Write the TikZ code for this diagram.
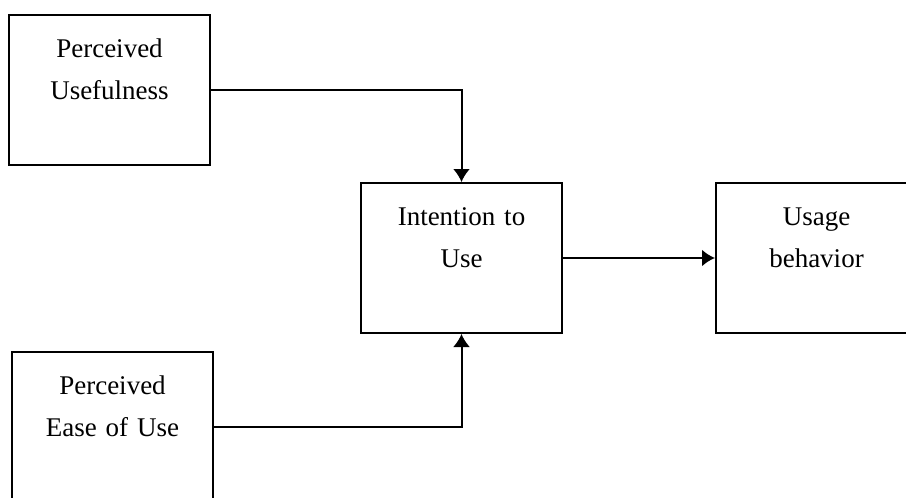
\documentclass[tikz,border=0pt]{standalone}
\usepackage{fontspec}
\setmainfont{Liberation Serif}
\usetikzlibrary{positioning,arrows.meta,calc}

\begin{document}
\begin{tikzpicture}[x=0.5pt,y=-0.5pt,>={Latex[length=6.5pt,width=8.5pt]},
	factor/.style={draw,line width=1pt,inner sep=0pt,text width=100.5pt,align=center,
		text height=21pt,text depth=54pt,font=\fontsize{13.5}{21}\selectfont}]
	\useasboundingbox (0,0) rectangle (906,498);

\node[factor] (PU) at (109.5,90) {Perceived\\Usefulness};
\node[factor] (PEU) at (112.5,427) {Perceived\\Ease of Use};
\node[factor] (ITU) at (461.5,258) {Intention to\\Use};
\node[factor] (UB) at (816.5,258) {Usage\\behavior};
\draw [line width=1pt,->] (PU.east) -| (ITU.north);
\draw [line width=1pt,->] (PEU.east) -| (ITU.south);
\draw [line width=1.2pt,->] (ITU) -- (UB);
\end{tikzpicture}
\end{document}
